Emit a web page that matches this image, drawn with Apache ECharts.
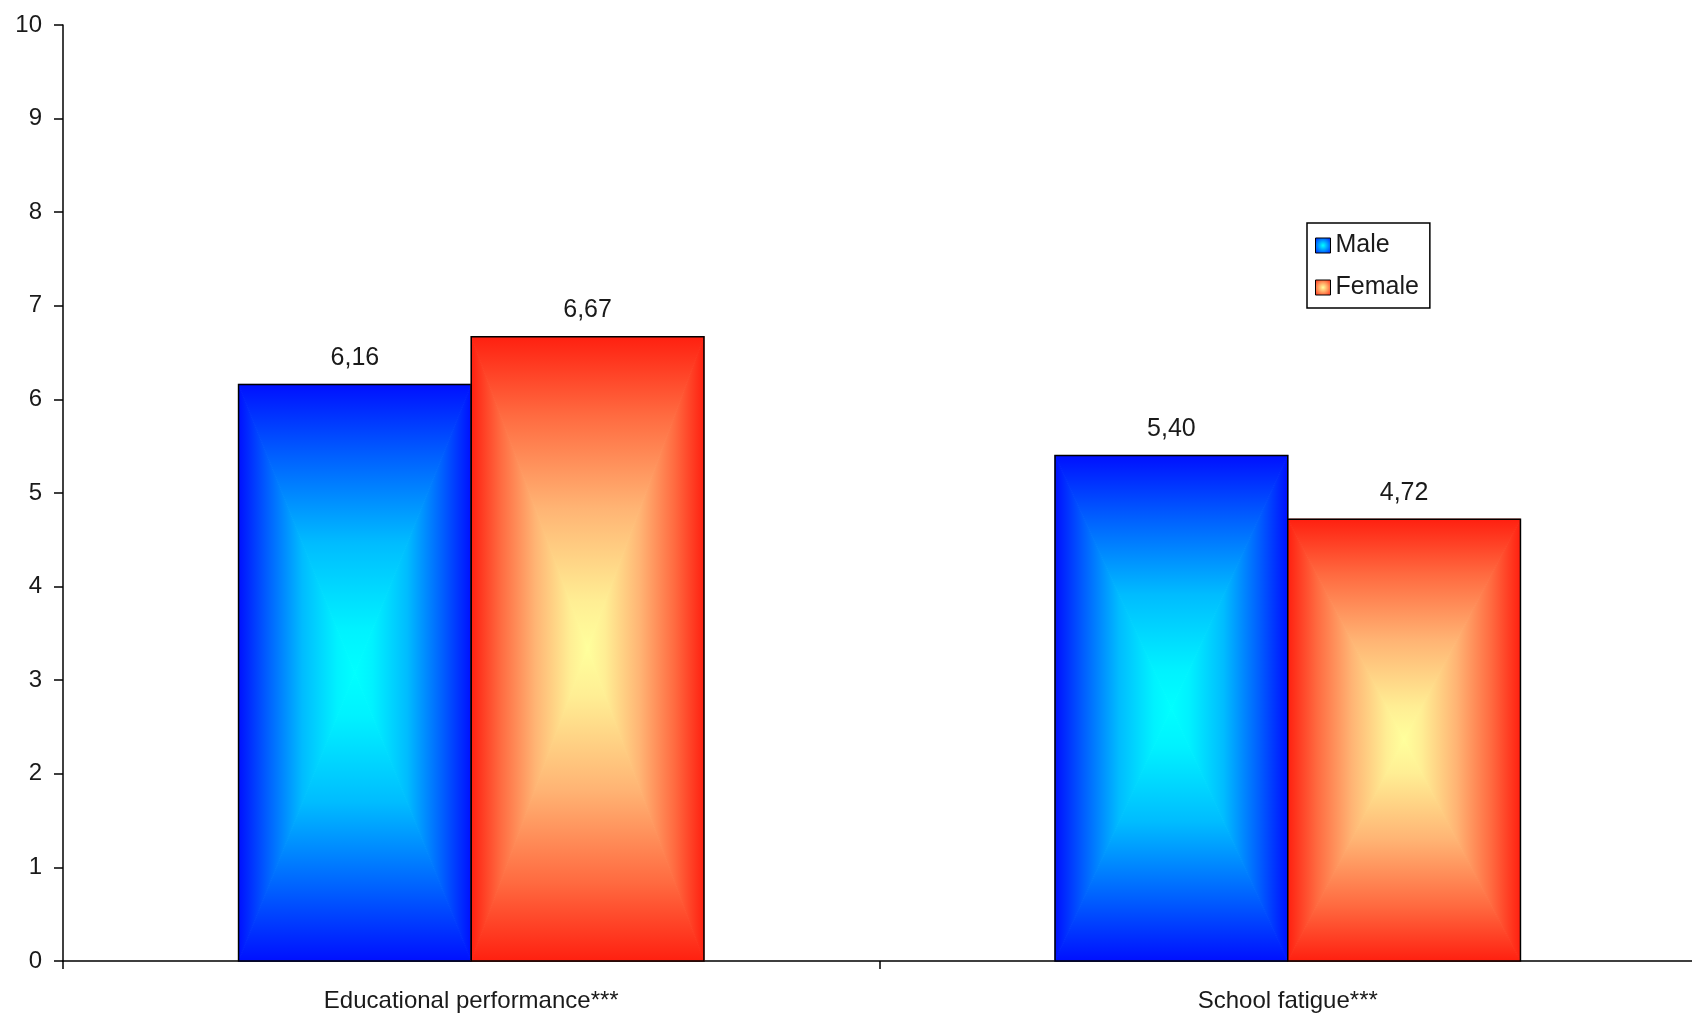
<!DOCTYPE html>
<html>
<head>
<meta charset="utf-8">
<script src="https://cdn.jsdelivr.net/npm/echarts@6/dist/echarts.min.js"></script>
<style>
html,body{margin:0;padding:0;background:#fff;}
#chart{width:1692px;height:1014px;}
</style>
</head>
<body>
<div id="chart"></div>
<script>
// ---- data ----
const categories = ['Educational performance***', 'School fatigue***'];
const seriesNames = ['Male', 'Female'];
const maleValues = [6.16, 5.40];
const femaleValues = [6.67, 4.72];
const yMin = 0, yMax = 10, yInterval = 1;

// ---- style ----
const FONT = '"Liberation Sans", Arial, sans-serif';
const TEXT_COLOR = '#1a1a1a';
const BAR_RATIO = 0.285; // bar width as share of category band
const palettes = [
  { edge: '#0010ff', ramp: ['#0010ff', '#0060ff', '#00bcff', '#00f2ff', '#00ffff'] },
  { edge: '#ff2010', ramp: ['#ff2010', '#ff6a40', '#ffb474', '#ffee94', '#ffff9c'] }
];
const RAMP_POS = [0, 0.25, 0.55, 0.85, 1];

function stops(p) {
  return p.ramp.map((c, i) => ({ offset: RAMP_POS[i], color: c }));
}

function makeRender(s) {
  const p = palettes[s];
  return function (params, api) {
    const ci = api.value(0), v = api.value(1);
    const base = api.coord([ci, 0]);
    const top = api.coord([ci, v]);
    const band = api.size([1, 0])[0];
    const bw = band * BAR_RATIO;
    const x0 = base[0] - bw + s * bw, x1 = x0 + bw;
    const y0 = top[1], y1 = base[1];
    const xc = (x0 + x1) / 2, yc = (y0 + y1) / 2;
    const st = stops(p);
    const G = echarts.graphic.LinearGradient;
    const gL = new G(x0, 0, xc, 0, st, true);
    const gR = new G(x1, 0, xc, 0, st, true);
    const gT = new G(0, y0, 0, yc, st, true);
    const gB = new G(0, y1, 0, yc, st, true);
    const tri = (pts, g) => ({
      type: 'polygon',
      shape: { points: pts },
      style: { fill: g, stroke: g, lineWidth: 1 }
    });
    const label = v.toFixed(2).replace('.', ',');
    return {
      type: 'group',
      children: [
        tri([[x0, y0], [xc, yc], [x0, y1]], gL),
        tri([[x1, y0], [xc, yc], [x1, y1]], gR),
        tri([[x0, y0], [x1, y0], [xc, yc]], gT),
        tri([[x0, y1], [x1, y1], [xc, yc]], gB),
        {
          type: 'rect',
          shape: { x: x0, y: y0, width: x1 - x0, height: y1 - y0 },
          style: { fill: null, stroke: '#000', lineWidth: 1.5 }
        },
        {
          type: 'text',
          x: xc, y: y0 - 14,
          style: {
            text: label, fill: TEXT_COLOR,
            font: '25px ' + FONT, align: 'center', verticalAlign: 'bottom'
          }
        }
      ]
    };
  };
}

function legendIcon(p) {
  return new echarts.graphic.RadialGradient(0.5, 0.5, 0.7, [
    { offset: 0, color: p.ramp[4] },
    { offset: 1, color: p.ramp[0] }
  ]);
}

const chart = echarts.init(document.getElementById('chart'), null, { renderer: 'canvas' });
chart.setOption({
  animation: false,
  backgroundColor: '#fff',
  grid: { left: 63, width: 1633, top: 25, bottom: 53, containLabel: false, outerBoundsMode: 'none' },
  legend: {
    orient: 'vertical',
    left: 1307, top: 223,
    padding: [10, 11, 8, 8],
    itemGap: 17,
    itemWidth: 15, itemHeight: 15,
    borderColor: '#000', borderWidth: 1.5,
    selectedMode: false,
    textStyle: { fontFamily: FONT, fontSize: 25, color: TEXT_COLOR, lineHeight: 25 },
    data: seriesNames.map((n, i) => ({
      name: n, icon: 'rect',
      itemStyle: { color: legendIcon(palettes[i]), borderColor: '#000', borderWidth: 1 }
    }))
  },
  xAxis: {
    type: 'category',
    data: categories,
    boundaryGap: true,
    axisLine: { lineStyle: { color: '#000', width: 1.5 } },
    axisTick: { show: true, inside: false, length: 8, alignWithLabel: false, lineStyle: { color: '#000', width: 1.5 } },
    axisLabel: { margin: 28, fontFamily: FONT, fontSize: 24, color: TEXT_COLOR },
    splitLine: { show: false }
  },
  yAxis: {
    type: 'value',
    min: yMin, max: yMax, interval: yInterval,
    axisLine: { show: true, lineStyle: { color: '#000', width: 1.5 } },
    axisTick: { show: true, inside: false, length: 9, lineStyle: { color: '#000', width: 1.5 } },
    axisLabel: { margin: 21, fontFamily: FONT, fontSize: 24, color: TEXT_COLOR },
    splitLine: { show: false }
  },
  series: [
    {
      name: seriesNames[0], type: 'custom',
      renderItem: makeRender(0),
      encode: { x: 0, y: 1 },
      itemStyle: { color: palettes[0].edge },
      data: maleValues.map((v, i) => [i, v]),
      z: 2
    },
    {
      name: seriesNames[1], type: 'custom',
      renderItem: makeRender(1),
      encode: { x: 0, y: 1 },
      itemStyle: { color: palettes[1].edge },
      data: femaleValues.map((v, i) => [i, v]),
      z: 3
    }
  ]
});
</script>
</body>
</html>
